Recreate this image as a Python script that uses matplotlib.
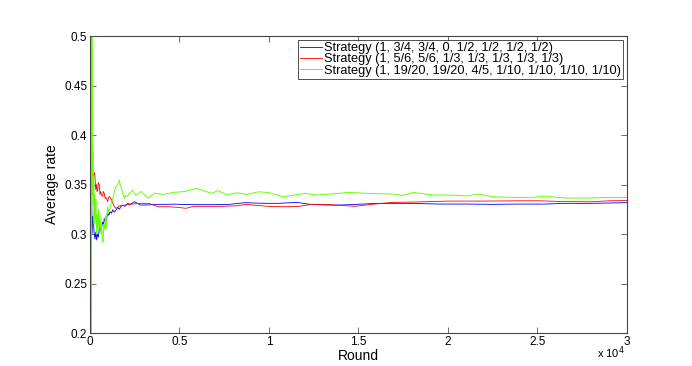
import numpy as np
import matplotlib
matplotlib.use('Agg')
import matplotlib.pyplot as plt

plt.rcParams['font.family'] = ['Liberation Sans', 'DejaVu Sans']

# rounds / average rate
rounds_a = [1, 30, 50, 70, 90, 120, 160, 200, 240, 280, 330, 370, 420, 470, 520, 560, 620, 700,
            760, 800, 860, 900, 960, 1000, 1060, 1117, 1200, 1270, 1350, 1450, 1550, 1640, 1740,
            1840, 1950, 2100, 2250, 2480, 2650, 2800, 3300, 3630, 4200, 4640, 5400, 6000, 7000,
            7800, 8660, 9400, 9950, 10500, 11560, 12300, 13200, 14000, 14900, 16000, 16900,
            18000, 19500, 21000, 22500, 24000, 25400, 26500, 28000, 30000]
rate_a = [0.27, 0.36, 0.378, 0.33, 0.345, 0.30, 0.318, 0.31, 0.30, 0.295, 0.302, 0.294, 0.300,
          0.297, 0.305, 0.307, 0.303, 0.312, 0.310, 0.3157, 0.312, 0.314, 0.318, 0.321, 0.319,
          0.3226, 0.321, 0.3245, 0.322, 0.3240, 0.327, 0.325, 0.328, 0.3293, 0.328, 0.331, 0.330,
          0.3327, 0.331, 0.3293, 0.3295, 0.330, 0.3300, 0.3302, 0.3298, 0.3297, 0.3297, 0.3300,
          0.3317, 0.3312, 0.331, 0.3310, 0.332, 0.3300, 0.3293, 0.3293, 0.3300, 0.331, 0.331,
          0.331, 0.3303, 0.3303, 0.330, 0.3303, 0.3303, 0.331, 0.331, 0.3317]

rounds_b = [1, 30, 45, 60, 80, 100, 130, 150, 180, 220, 250, 280, 320, 360, 400, 430, 470, 520,
            560, 600, 650, 710, 750, 800, 850, 900, 990, 1030, 1080, 1170, 1220, 1260, 1360, 1450,
            1550, 1640, 1900, 2200, 2500, 2760, 3300, 3800, 4400, 4900, 5360, 5800, 6500, 7300,
            8200, 8700, 9300, 9950, 10800, 11600, 12400, 13200, 14000, 14800, 15600, 16300,
            16900, 18000, 20000, 22000, 24000, 25000, 26500, 28000, 29000, 30000]
rate_b = [0.20, 0.27, 0.33, 0.375, 0.36, 0.35, 0.372, 0.365, 0.352, 0.36, 0.362, 0.358, 0.345,
          0.350, 0.343, 0.344, 0.352, 0.350, 0.340, 0.343, 0.339, 0.338, 0.343, 0.341, 0.336,
          0.337, 0.3327, 0.336, 0.338, 0.336, 0.334, 0.332, 0.3276, 0.326, 0.327, 0.3285, 0.329,
          0.330, 0.3305, 0.331, 0.331, 0.3276, 0.3276, 0.327, 0.326, 0.3280, 0.328, 0.328,
          0.3285, 0.330, 0.329, 0.328, 0.3276, 0.3278, 0.330, 0.330, 0.329, 0.328, 0.3297, 0.331,
          0.332, 0.3323, 0.3333, 0.3333, 0.3336, 0.3336, 0.3328, 0.3326, 0.3336, 0.3338]

rounds_c = [1, 60, 85, 110, 125, 145, 165, 185, 205, 230, 260, 300, 330, 370, 400, 440, 470, 520,
            560, 610, 650, 690, 730, 780, 820, 860, 900, 950, 990, 1040, 1100, 1170, 1250, 1350,
            1450, 1550, 1640, 1700, 1780, 1850, 1920, 2000, 2100, 2200, 2380, 2570, 2850, 3240,
            3630, 4100, 4640, 5300, 5980, 6530, 6820, 7150, 7650, 8210, 8770, 9390, 9950, 10780,
            12010, 12680, 13500, 14410, 15600, 16930, 17500, 18050, 19170, 20200, 21060, 21680,
            22520, 23500, 24700, 25420, 26500, 27800, 29000, 30000]
rate_c = [0.50, 0.50, 0.18, 0.50, 0.392, 0.34, 0.385, 0.33, 0.36, 0.31, 0.34, 0.315, 0.335,
          0.30, 0.32, 0.305, 0.325, 0.305, 0.318, 0.30, 0.31, 0.295, 0.292, 0.31, 0.305, 0.318,
          0.305, 0.32, 0.3276, 0.322, 0.325, 0.33, 0.334, 0.342, 0.348, 0.350, 0.3545, 0.349,
          0.345, 0.340, 0.336, 0.339, 0.338, 0.341, 0.3444, 0.339, 0.343, 0.3364, 0.3414, 0.340,
          0.342, 0.343, 0.3461, 0.3427, 0.341, 0.344, 0.3394, 0.3417, 0.340, 0.3427, 0.342,
          0.3377, 0.341, 0.3394, 0.3405, 0.342, 0.341, 0.3404, 0.339, 0.3420, 0.3394, 0.3394,
          0.3384, 0.3404, 0.3377, 0.337, 0.337, 0.3384, 0.3364, 0.3364, 0.337, 0.337]

labels = ['Strategy (1, 3/4, 3/4, 0, 1/2, 1/2, 1/2, 1/2)',
          'Strategy (1, 5/6, 5/6, 1/3, 1/3, 1/3, 1/3, 1/3)',
          'Strategy (1, 19/20, 19/20, 4/5, 1/10, 1/10, 1/10, 1/10)']

xticks = [0, 5000, 10000, 15000, 20000, 25000, 30000]
xtick_labels = ['0', '0.5', '1', '1.5', '2', '2.5', '3']
yticks = [0.2, 0.25, 0.3, 0.35, 0.4, 0.45, 0.5]
ytick_labels = ['0.2', '0.25', '0.3', '0.35', '0.4', '0.45', '0.5']

fig = plt.figure(figsize=(6.92, 3.66), dpi=100)
ax = fig.add_axes([0.130, 0.090, 0.776, 0.8115])

ax.plot(rounds_a, rate_a, color='#0000ff', lw=0.6, label=labels[0])
ax.plot(rounds_b, rate_b, color='#ff0000', lw=0.6, label=labels[1])
ax.plot(rounds_c, rate_c, color='#66ff00', lw=0.7, label=labels[2])

ax.set_xlim(0, 30000)
ax.set_ylim(0.2, 0.5)
ax.set_xticks(xticks)
ax.set_xticklabels(xtick_labels)
ax.set_yticks(yticks)
ax.set_yticklabels(ytick_labels)
ax.tick_params(direction='in', top=True, right=True, length=4, width=0.5,
               labelsize=8.5, colors='#333333', labelcolor='black', pad=2)
for s in ax.spines.values():
    s.set_color('#444444')
    s.set_linewidth(0.8)

ax.set_xlabel('Round', fontsize=10, labelpad=1)
ax.set_ylabel('Average rate', fontsize=10, labelpad=4)
ax.text(0.995, -0.065, r'x 10$^4$', transform=ax.transAxes, fontsize=8,
        ha='right', va='center')

leg = ax.legend(loc='upper right', bbox_to_anchor=(0.9926, 0.9865), fontsize=9.2,
                frameon=True, fancybox=False, handlelength=1.7, handletextpad=0.2,
                borderpad=0.15, labelspacing=-0.05, borderaxespad=0)
leg.get_frame().set_edgecolor('black')
leg.get_frame().set_linewidth(0.6)

fig.savefig('out.png', dpi=100)
